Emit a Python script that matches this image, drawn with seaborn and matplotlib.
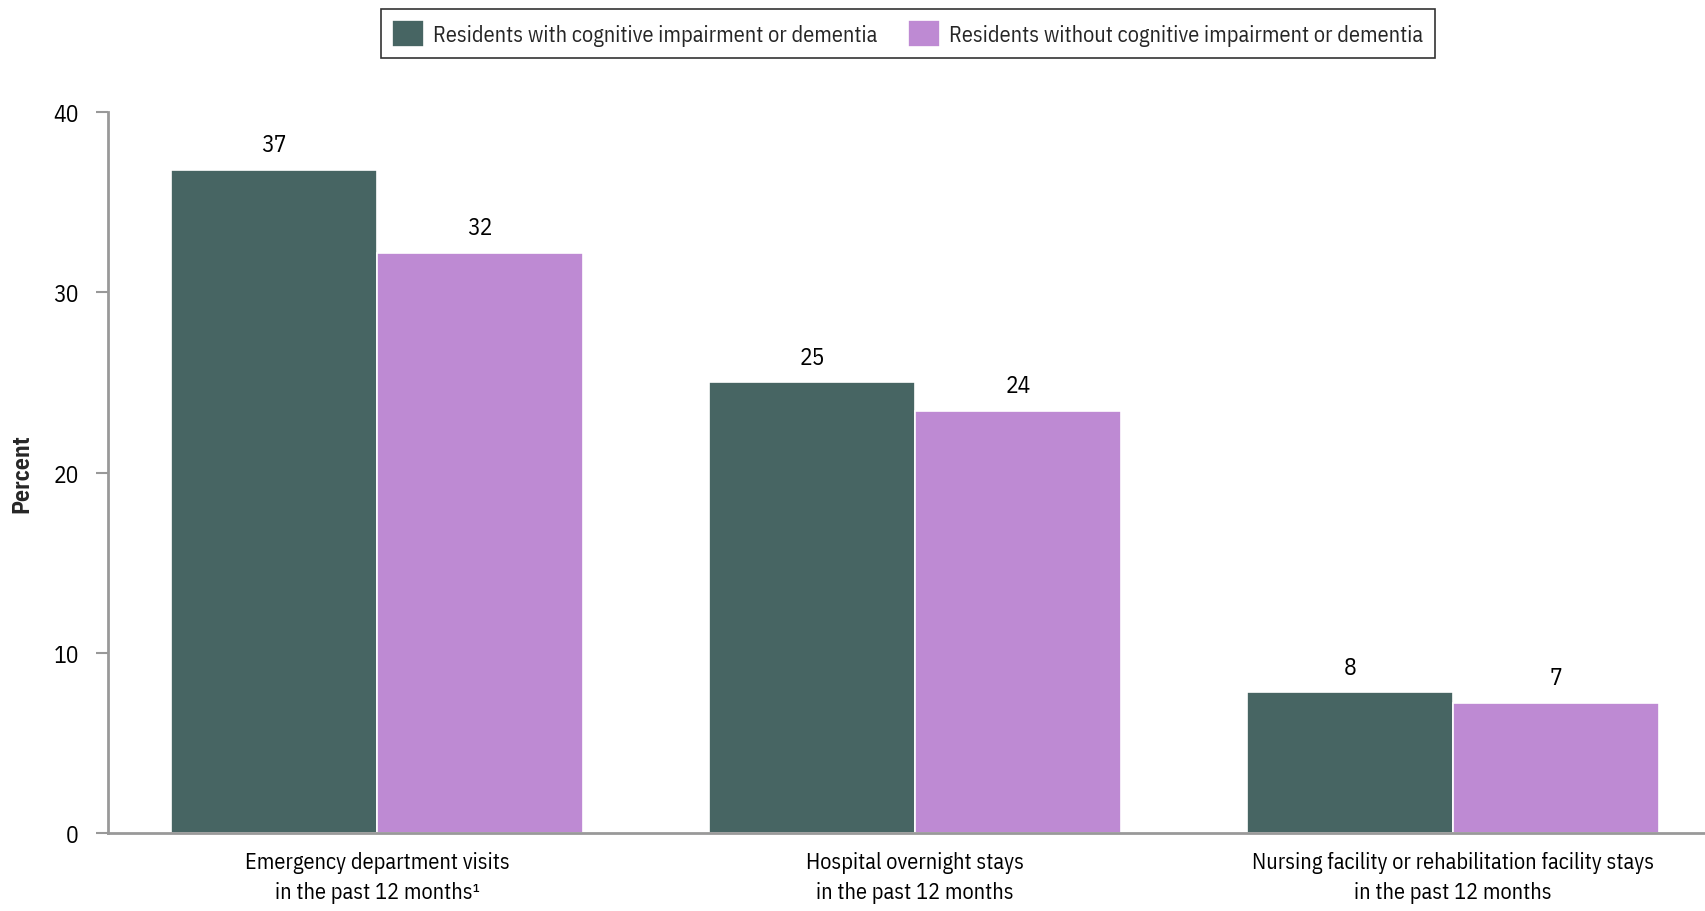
import numpy as np
import pandas as pd
import matplotlib
matplotlib.use("Agg")
import matplotlib.pyplot as plt
import seaborn as sns

# Data
categories = [
    "Emergency department visits\nin the past 12 months\u00b9",
    "Hospital overnight stays\nin the past 12 months",
    "Nursing facility or rehabilitation facility stays\nin the past 12 months",
]
groups = [
    "Residents with cognitive impairment or dementia",
    "Residents without cognitive impairment or dementia",
]
with_dementia = [36.8, 25.0, 7.8]
without_dementia = [32.2, 23.4, 7.2]
labels_with = ["37", "25", "8"]
labels_without = ["32", "24", "7"]
y_ticks = [0, 10, 20, 30, 40]

colors = ["#476563", "#BE8AD3"]

sns.set_theme(style="white")
FONT = ['IBM Plex Sans Condensed', 'Liberation Sans Narrow', 'DejaVu Sans']
plt.rcParams['font.family'] = FONT

df = pd.DataFrame({
    "Category": categories * 2,
    "Group": [groups[0]] * 3 + [groups[1]] * 3,
    "Percent": with_dementia + without_dementia,
})

fig = plt.figure(figsize=(17.06, 9.12), dpi=100)
ax = fig.add_axes([0.0633, 0.0855, 0.9367, 0.7905])

sns.barplot(data=df, x="Category", y="Percent", hue="Group", palette=colors,
            saturation=1, width=0.765, edgecolor="white", linewidth=1.2,
            ax=ax, legend=True)

# value labels above bars
for cont, labs in zip(ax.containers, [labels_with, labels_without]):
    ax.bar_label(cont, labels=labs, padding=10, fontsize=17, color="black")

ax.set_ylim(0, 40)
ax.set_xlim(-0.5, 2.47)
ax.set_yticks(y_ticks)
ax.set_yticklabels([str(t) for t in y_ticks], fontsize=17, color="black")
ax.tick_params(axis="y", which="both", left=True, length=9, width=1.5,
               color="#999999", pad=12)
ax.tick_params(axis="x", bottom=False, labelsize=16, labelcolor="black", pad=7)
for lab in ax.get_xticklabels():
    lab.set_linespacing(1.45)
ax.set_xlabel("")
ax.set_ylabel("Percent", fontsize=17, fontweight="bold")
ax.yaxis.set_label_coords(-0.047, 0.5)

for side in ["top", "right"]:
    ax.spines[side].set_visible(False)
for side in ["left", "bottom"]:
    ax.spines[side].set_color("#999999")
    ax.spines[side].set_linewidth(2)

handles, lbls = ax.get_legend_handles_labels()
ax.legend_.remove()
leg = fig.legend(handles, lbls, loc="center", bbox_to_anchor=(0.532, 0.962),
                 ncol=2, fontsize=16, frameon=True, fancybox=False,
                 edgecolor="black", handlelength=1.45, handleheight=1.45,
                 handletextpad=0.4, columnspacing=1.4, borderpad=0.5)
leg.get_frame().set_linewidth(1.2)

fig.savefig("out.png", dpi=100)
